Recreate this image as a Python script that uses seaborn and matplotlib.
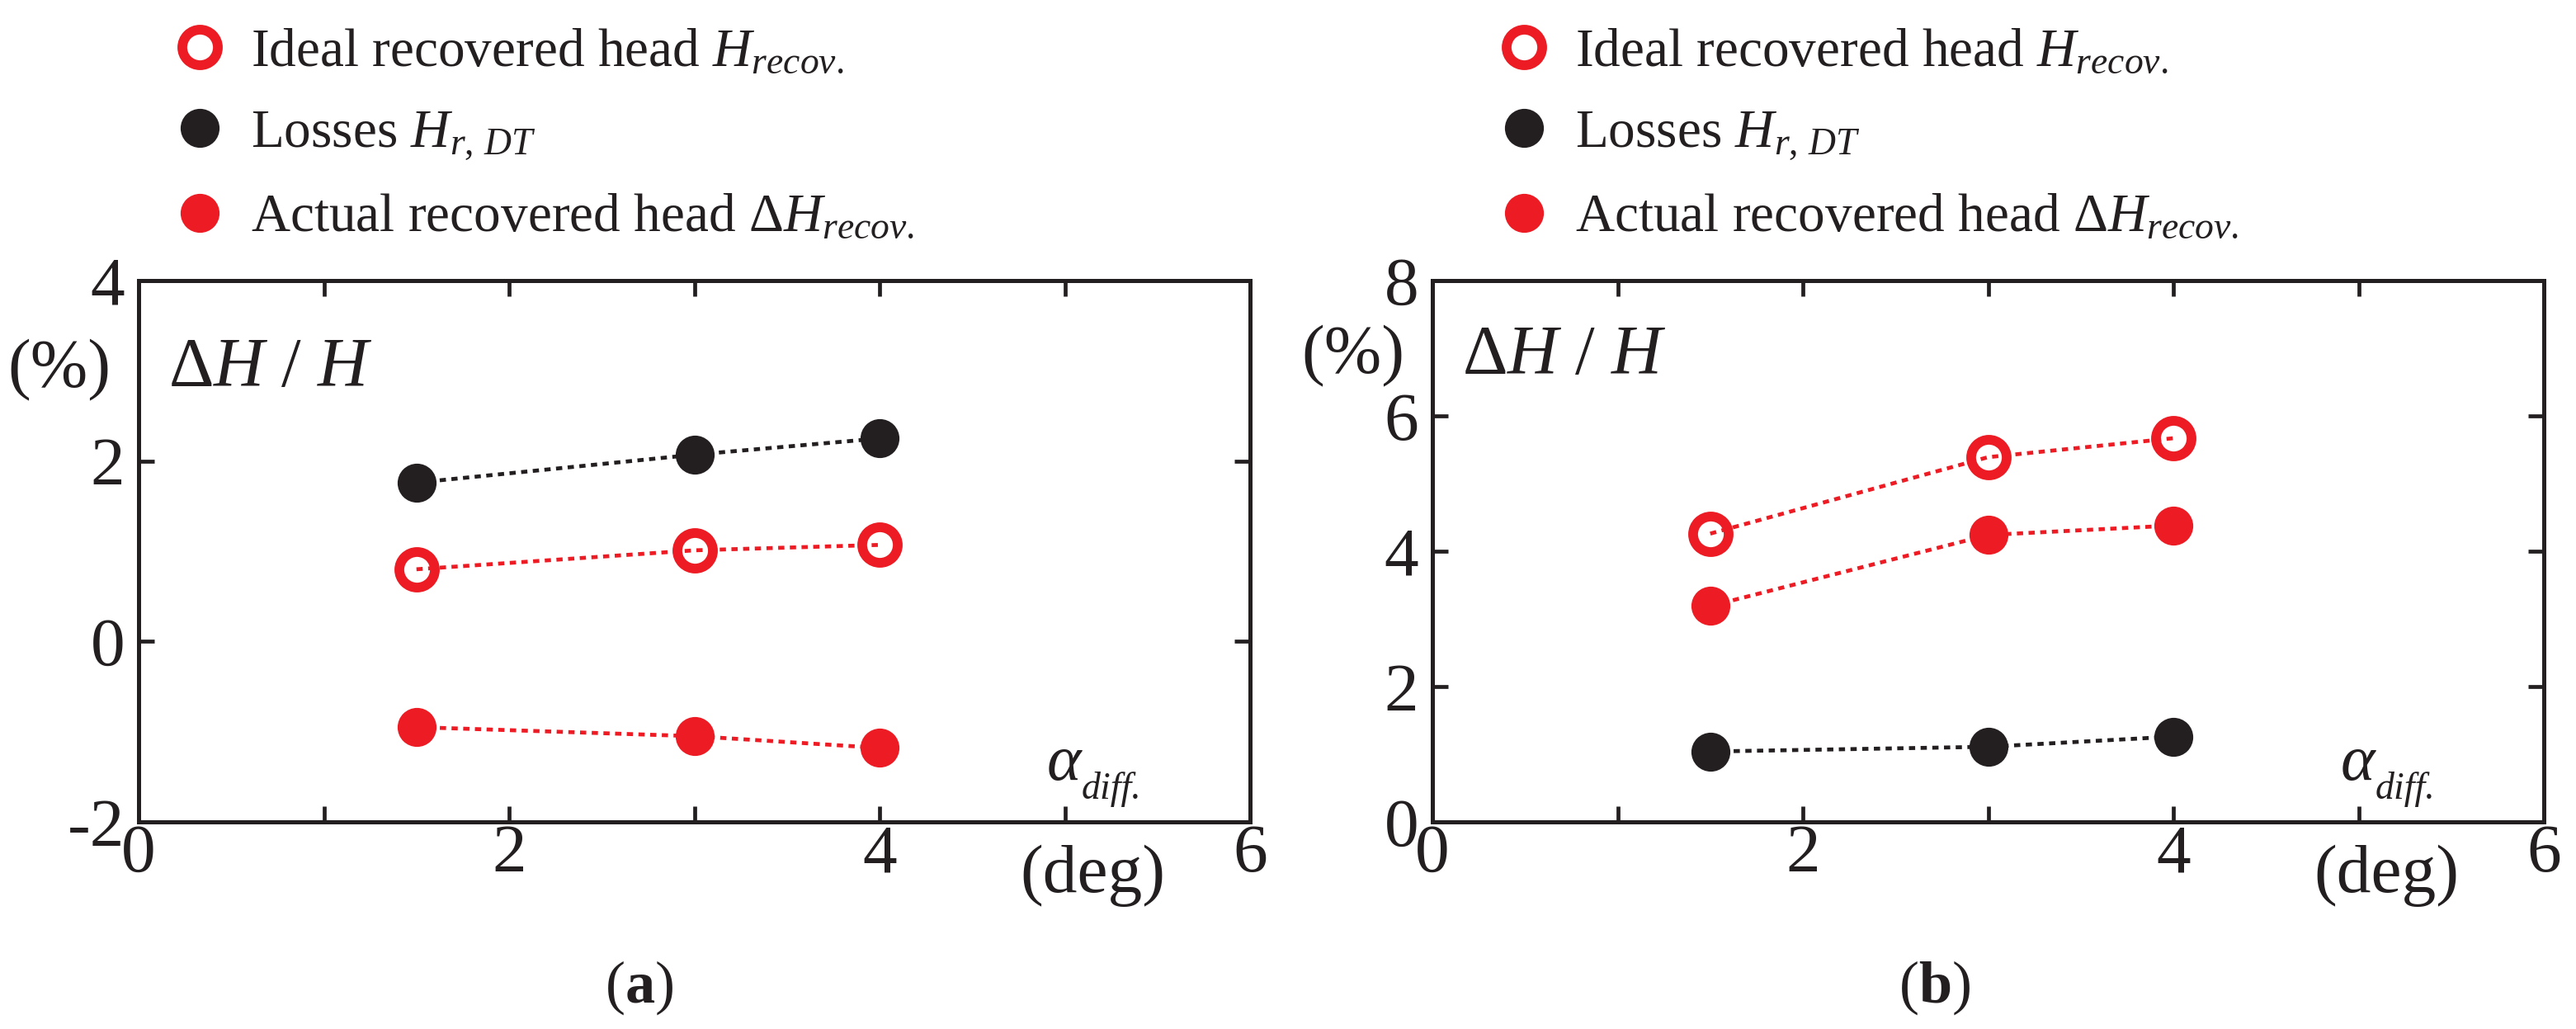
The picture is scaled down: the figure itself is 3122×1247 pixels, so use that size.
import seaborn as sns
import matplotlib.pyplot as plt
import matplotlib.transforms as mtransforms
from matplotlib.lines import Line2D

plt.switch_backend("Agg")

# ----------------------------
# Data
# ----------------------------
alpha_deg = [1.5, 3.0, 4.0]

a_ideal = [0.80, 1.01, 1.07]
a_losses = [1.76, 2.07, 2.25]
a_actual = [-0.95, -1.05, -1.18]

b_ideal = [4.26, 5.39, 5.67]
b_losses = [1.04, 1.11, 1.26]
b_actual = [3.19, 4.24, 4.38]

x_ticks = [0, 1, 2, 3, 4, 5, 6]
x_ticklabels = ["0", "", "2", "", "4", "", "6"]
a_yticks = [-2, 0, 2, 4]
a_yticklabels = ["-2", "0", "2", "4"]
b_yticks = [0, 2, 4, 6, 8]
b_yticklabels = ["0", "2", "4", "6", "8"]

legend_labels = [
    r"Ideal recovered head $H_{recov.}$",
    r"Losses $H_{r,\,DT}$",
    r"Actual recovered head $\Delta H_{recov.}$",
]

RED = "#ED1C24"
BLACK = "#231F20"
SERIF = ["Liberation Serif", "DejaVu Serif"]

sns.set_theme(style="ticks")
plt.rcParams["font.family"] = SERIF
plt.rcParams["mathtext.fontset"] = "custom"
plt.rcParams["mathtext.rm"] = "Liberation Serif"
plt.rcParams["mathtext.it"] = "Liberation Serif:italic"
plt.rcParams["mathtext.bf"] = "Liberation Serif:bold"
plt.rcParams["text.color"] = BLACK

fig = plt.figure(figsize=(31.22, 12.47), dpi=100)
ax_a = fig.add_axes([168 / 3122, 1 - 996 / 1247, 1347 / 3122, 656 / 1247])
ax_b = fig.add_axes([1736 / 3122, 1 - 996 / 1247, 1347 / 3122, 656 / 1247])

dotted = (0, (1.6, 1.4))
LW = 3.4


def draw_series(ax, y, color, hollow):
    if hollow:
        sns.lineplot(x=alpha_deg, y=y, ax=ax, color=color, lw=LW, linestyle=dotted,
                     marker="o", markersize=31, markerfacecolor="none",
                     markeredgecolor=color, markeredgewidth=8.5, zorder=3)
    else:
        sns.lineplot(x=alpha_deg, y=y, ax=ax, color=color, lw=LW, linestyle=dotted,
                     marker="o", markersize=34, markerfacecolor=color,
                     markeredgewidth=0, zorder=3)


def style_axes(ax, ylim, yticks, yticklabels, pct_y, dh_y, legend_x):
    ax.set_xlim(0, 6)
    ax.set_ylim(*ylim)
    ax.set_xticks(x_ticks)
    ax.set_xticklabels(x_ticklabels)
    ax.set_yticks(yticks)
    ax.set_yticklabels(yticklabels)
    ax.tick_params(axis="both", direction="in", length=14, width=3.4,
                   colors=BLACK, labelsize=60, top=True, right=True)
    ax.tick_params(axis="x", pad=2)
    ax.tick_params(axis="y", pad=12)
    for lbl in ax.get_xticklabels() + ax.get_yticklabels():
        lbl.set_fontfamily(SERIF)
    for sp in ax.spines.values():
        sp.set_visible(True)
        sp.set_linewidth(3.6)
        sp.set_color(BLACK)
    ax.set_xlabel("")
    ax.set_ylabel("")

    ax.text(-0.071, pct_y, "(%)", transform=ax.transAxes, fontsize=60,
            ha="center", va="center")
    ax.text(0.027, dh_y, r"$\Delta H\ /\ H$", transform=ax.transAxes,
            fontsize=61, ha="left", va="baseline")

    # alpha_diff. with a deep, small subscript like the original
    ax.text(0.817, 0.078, r"$\alpha$", transform=ax.transAxes,
            fontsize=57, ha="left", va="baseline")
    sub_tr = mtransforms.offset_copy(ax.transAxes, fig=fig, x=30, y=-17,
                                     units="points")
    ax.text(0.817, 0.078, "diff.", transform=sub_tr, fontsize=33,
            style="italic", ha="left", va="baseline")

    trans = mtransforms.blended_transform_factory(ax.transData, ax.transAxes)
    ax.text(5.15, -0.10, "(deg)", transform=trans, fontsize=60,
            ha="center", va="center")

    handles = [
        Line2D([], [], linestyle="none", marker="o", markersize=31,
               markerfacecolor="none", markeredgecolor=RED, markeredgewidth=8.5),
        Line2D([], [], linestyle="none", marker="o", markersize=34,
               markerfacecolor=BLACK, markeredgewidth=0),
        Line2D([], [], linestyle="none", marker="o", markersize=34,
               markerfacecolor=RED, markeredgewidth=0),
    ]
    ax.legend(handles, legend_labels, loc="upper left",
              bbox_to_anchor=(legend_x, 1.466), frameon=False, fontsize=47,
              handlelength=1.0, handletextpad=0.45, labelspacing=0.59,
              borderpad=0, borderaxespad=0)


# ----------------------------
# Panel (a)
# ----------------------------
draw_series(ax_a, a_losses, BLACK, False)
draw_series(ax_a, a_ideal, RED, True)
draw_series(ax_a, a_actual, RED, False)
style_axes(ax_a, (-2, 4), a_yticks, a_yticklabels, 0.835, 0.805, 0.031)

# ----------------------------
# Panel (b)
# ----------------------------
draw_series(ax_b, b_losses, BLACK, False)
draw_series(ax_b, b_ideal, RED, True)
draw_series(ax_b, b_actual, RED, False)
style_axes(ax_b, (0, 8), b_yticks, b_yticklabels, 0.861, 0.828, 0.058)

fig.text(0.248, 0.040, r"($\mathbf{a}$)", fontsize=52, ha="center", va="center")
fig.text(0.751, 0.040, r"($\mathbf{b}$)", fontsize=52, ha="center", va="center")

fig.savefig("out.png", dpi=100)
plt.close(fig)
